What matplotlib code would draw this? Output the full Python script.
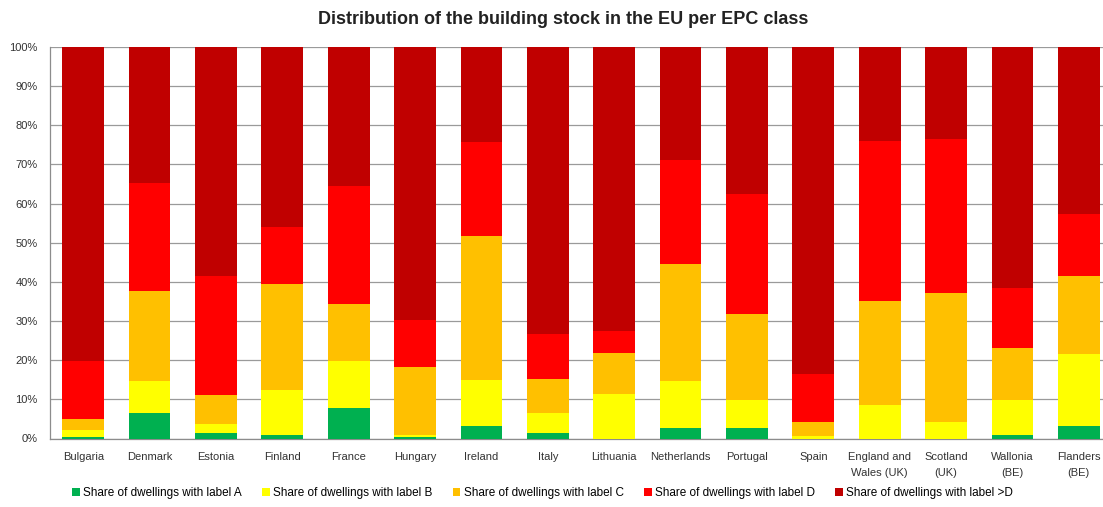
import numpy as np
import matplotlib
matplotlib.use("Agg")
import matplotlib.pyplot as plt
from matplotlib.ticker import PercentFormatter

plt.rcParams["font.family"] = ["Liberation Sans", "DejaVu Sans"]

regions = ["Bulgaria", "Denmark", "Estonia", "Finland", "France", "Hungary",
           "Ireland", "Italy", "Lithuania", "Netherlands", "Portugal", "Spain",
           "England and\nWales (UK)", "Scotland\n(UK)", "Wallonia\n(BE)", "Flanders\n(BE)"]

# share of dwellings per EPC label, in %
label_a = [0.3, 6.6, 1.3, 0.9, 7.8, 0.5, 3.2, 1.3, 0.0, 2.7, 2.7, 0.0, 0.0, 0.0, 0.9, 3.2]
label_b = [1.8, 8.1, 2.3, 11.6, 12.0, 0.4, 11.7, 5.3, 11.3, 12.0, 7.1, 0.6, 8.5, 4.3, 8.9, 18.4]
label_c = [2.8, 23.0, 7.5, 27.0, 14.6, 17.4, 36.7, 8.7, 10.6, 29.9, 22.0, 3.7, 26.7, 32.8, 13.4, 20.0]
label_d = [14.9, 27.5, 30.4, 14.5, 30.0, 12.0, 24.2, 11.4, 5.6, 26.6, 30.7, 12.1, 40.9, 39.4, 15.3, 15.8]
label_worse = [80.2, 34.8, 58.5, 46.0, 35.6, 69.7, 24.2, 73.3, 72.5, 28.8, 37.5, 83.6, 23.9, 23.5, 61.5, 42.6]

series = [
    ("Share of dwellings with label A", label_a, "#00B050"),
    ("Share of dwellings with label B", label_b, "#FFFF00"),
    ("Share of dwellings with label C", label_c, "#FFC000"),
    ("Share of dwellings with label D", label_d, "#FF0000"),
    ("Share of dwellings with label >D", label_worse, "#C00000"),
]

fig = plt.figure(figsize=(11.03, 5.07), dpi=100)
W, H = 1103, 507
ax = fig.add_axes([50 / W, 1 - 438.5 / H, 1062 / W, 391.5 / H])

x = np.arange(len(regions))
bottom = np.zeros(len(regions))
for name, vals, col in series:
    vals = np.array(vals)
    ax.bar(x, vals, 0.63, bottom=bottom, color=col, label=name, zorder=3)
    bottom += vals

ax.set_xlim(-0.5, len(regions) - 0.5)
ax.set_ylim(0, 100)
ax.set_yticks(np.arange(0, 101, 10))
ax.yaxis.set_major_formatter(PercentFormatter(decimals=0))
ax.set_xticks(x)
ax.set_xticklabels(regions, fontsize=8, linespacing=1.7)
ax.tick_params(axis="both", length=0, colors="#333333", labelsize=8)
ax.tick_params(axis="x", pad=10)
ax.tick_params(axis="y", pad=9)
ax.grid(axis="y", color="#9a9a9a", lw=0.9, zorder=0)
for s in ["top", "right"]:
    ax.spines[s].set_visible(False)
for s in ["left", "bottom"]:
    ax.spines[s].set_color("#8c8c8c")
    ax.spines[s].set_linewidth(0.9)

fig.text(0.511, 0.962, "Distribution of the building stock in the EU per EPC class",
         ha="center", va="center", fontsize=13, fontweight="bold", color="#222222")

fig.legend(loc="center", bbox_to_anchor=(0.492, 0.027), ncol=5, frameon=False,
           fontsize=8.5, handlelength=0.65, handleheight=0.65, handletextpad=0.3,
           columnspacing=1.7)

fig.savefig("out.png", dpi=100)
